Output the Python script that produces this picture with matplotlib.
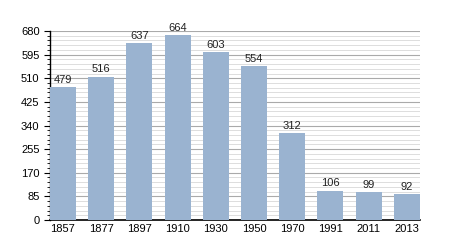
import matplotlib.pyplot as plt
from matplotlib.ticker import MultipleLocator

plt.rcParams['font.family'] = ['Liberation Sans', 'DejaVu Sans']

# population by census year
years = ['1857', '1877', '1897', '1910', '1930', '1950', '1970', '1991', '2011', '2013']
population = [479, 516, 637, 664, 603, 554, 312, 106, 99, 92]

fig = plt.figure(figsize=(4.5, 2.5), dpi=100)
ax = fig.add_axes([0.111, 0.12, 0.822, 0.756])

x = range(len(years))
bars = ax.bar(x, population, width=0.68, color='#9ab3d0', zorder=3)

for xi, v in zip(x, population):
    ax.text(xi, v + 8, str(v), ha='center', va='bottom', fontsize=8, color='#222222', zorder=4)

ax.set_xlim(-0.34, len(years) - 0.66)
ax.set_ylim(0, 680)
ax.yaxis.set_major_locator(MultipleLocator(85))
ax.yaxis.set_minor_locator(MultipleLocator(17))
ax.set_xticks(list(x))
ax.set_xticklabels(years)

ax.grid(axis='y', which='major', color='#aaaaaa', linewidth=0.8, zorder=0)
ax.grid(axis='y', which='minor', color='#d8d8d8', linewidth=0.6, zorder=0)

for s in ['top', 'right']:
    ax.spines[s].set_visible(False)
ax.spines['left'].set_linewidth(1.0)
ax.spines['bottom'].set_linewidth(1.2)

ax.tick_params(axis='y', which='major', labelsize=8, length=4, width=0.8)
ax.tick_params(axis='y', which='minor', length=2, width=0.6)
ax.tick_params(axis='x', labelsize=8, length=0, pad=3)

fig.savefig('out.png', dpi=100)
